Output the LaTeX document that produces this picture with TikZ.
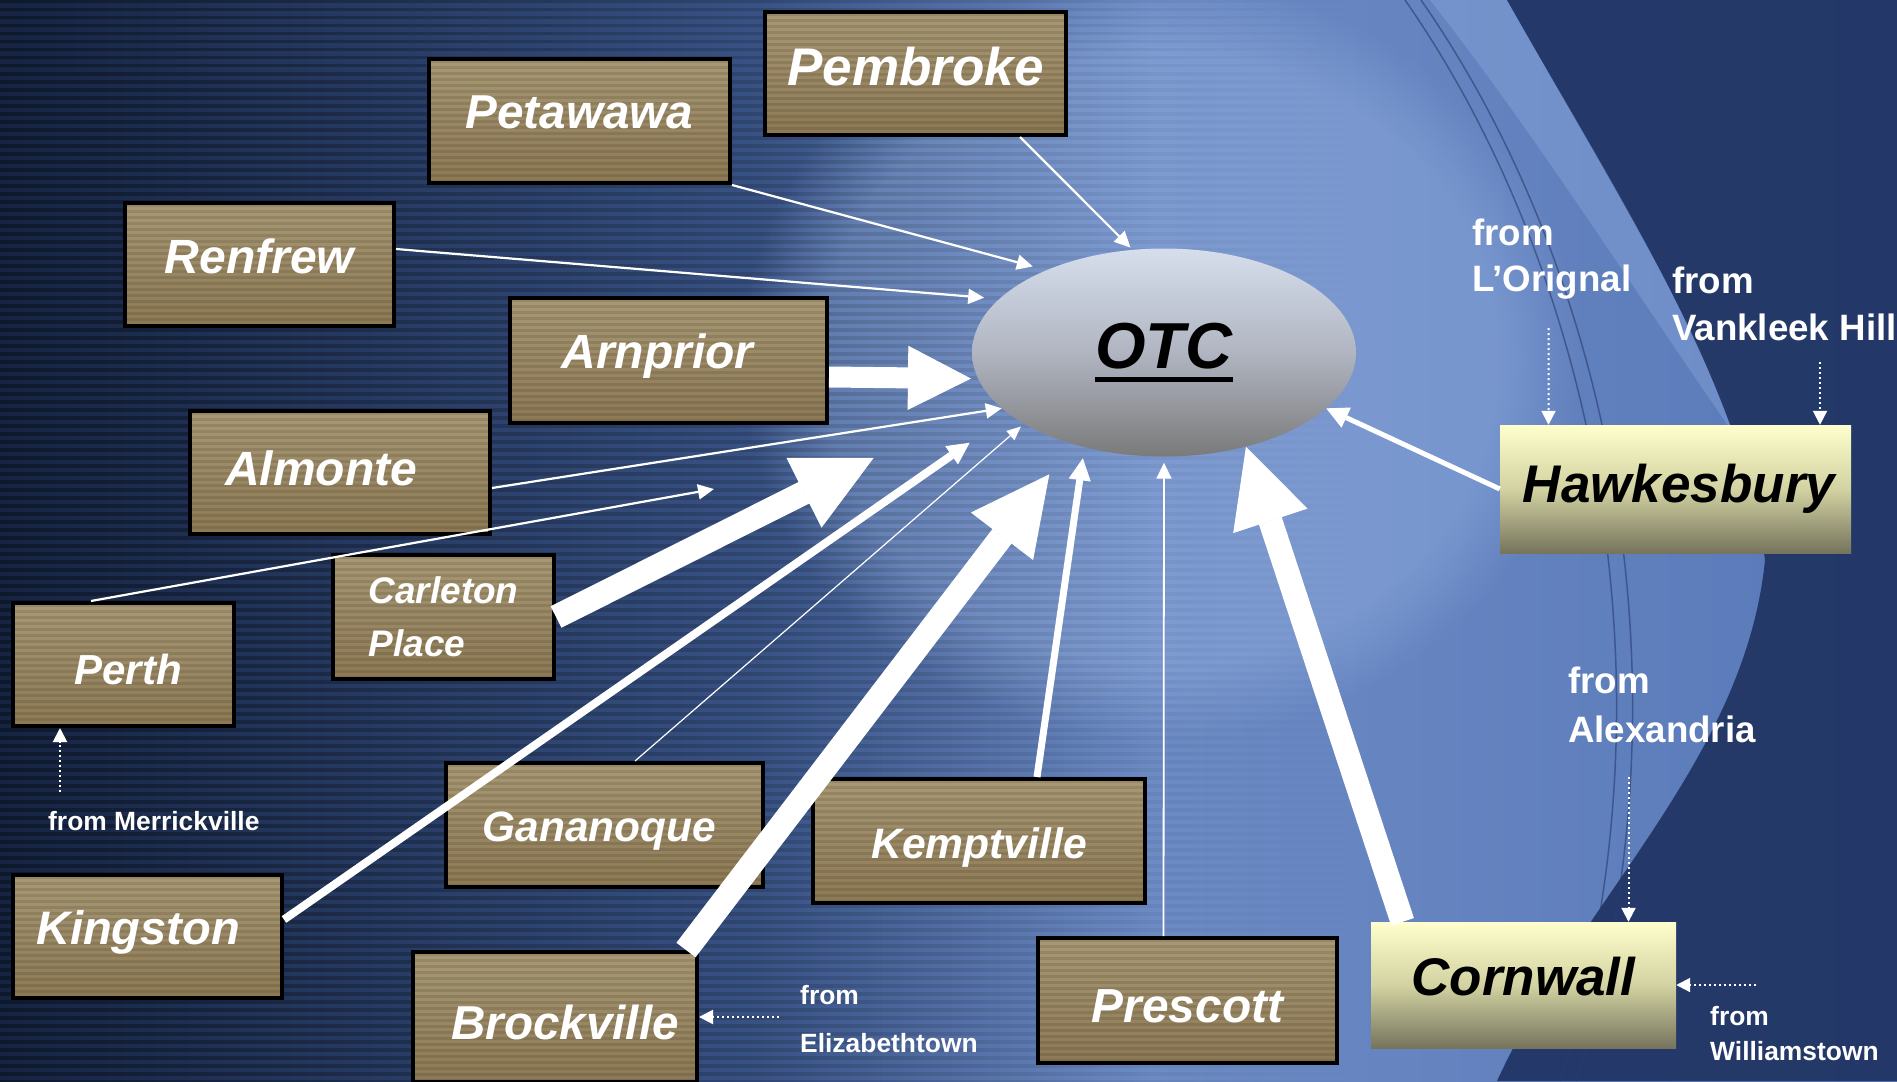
\documentclass[tikz,border=0pt]{standalone}
\usepackage{fontspec}
\setmainfont{Liberation Sans}
\usetikzlibrary{arrows.meta,shapes.geometric,fadings}

\definecolor{bgdark}{RGB}{22,36,66}
\definecolor{bgmid}{RGB}{56,82,132}
\definecolor{bglight}{RGB}{108,138,196}
\definecolor{bgright}{RGB}{88,120,184}
\definecolor{glow}{RGB}{160,188,235}
\definecolor{curtain}{RGB}{30,50,96}
\definecolor{arcc}{RGB}{40,60,110}
\definecolor{tanT}{RGB}{168,152,116}
\definecolor{tanB}{RGB}{140,121,84}
\definecolor{ylwT}{RGB}{255,255,205}
\definecolor{ylwM}{RGB}{210,210,162}
\definecolor{ylwB}{RGB}{118,116,92}
\definecolor{otcT}{RGB}{214,222,236}
\definecolor{otcM}{RGB}{176,181,193}
\definecolor{otcB}{RGB}{122,122,122}

\newcommand\myfs[1]{\fontsize{#1pt}{#1pt}\selectfont}
\newcommand\myul[1]{\setbox0\hbox{#1}\rlap{\rule[-14pt]{\wd0}{5pt}}\box0}
\newcommand\mvtxt[3]{\raisebox{#2}[\height][\depth]{\hspace*{#1}#3\hspace*{-#1}}}

\tikzset{
  town/.style={draw=black, line width=4pt, top color=tanT, bottom color=tanB,
    text=white, inner sep=0pt, align=center,
    path picture={\foreach \k in {0,...,22}{\fill[black,opacity=.10]
      ([yshift=-\k*6pt-1pt]path picture bounding box.north west) rectangle
      ([yshift=-\k*6pt-4pt]path picture bounding box.north east);}}},
  ybox/.style={top color=ylwT, bottom color=ylwB, middle color=ylwM,
    text=black, inner sep=0pt, font=\bfseries\itshape\myfs{53}},
  otcnode/.style={ellipse, minimum width=384pt, minimum height=208pt, inner sep=0pt,
    top color=otcT, bottom color=otcB, middle color=otcM, text=black,
    font=\bfseries\itshape\myfs{65}},
  fromtxt/.style={text=white, inner sep=0pt, anchor=base west},
  thinarr/.style={draw=white, line width=2.2pt, -{Triangle[width=15pt,length=16pt]}},
  hairarr/.style={draw=white, line width=1.2pt, -{Triangle[width=12pt,length=14pt]}},
  medarr/.style={draw=white, line width=#1, -{Triangle[width=22pt,length=22pt,line width=1pt]}},
  blockarr/.style={draw=white, line width=24pt, -{Triangle[width=78pt,length=78pt,line width=1pt]}},
  blockarrA/.style={draw=white, line width=21pt, -{Triangle[width=64pt,length=63pt,line width=1pt]}},
  dotarr/.style={draw=white, line width=2pt, dash pattern=on 2pt off 3pt,
    -{Triangle[width=14pt,length=14pt]}},
}

\begin{document}
\begin{tikzpicture}[x=1pt,y=-1pt]
\useasboundingbox (0,0) rectangle (1897,1081);
\clip (0,0) rectangle (1897,1081);

% ---------- background ----------
\shade[left color=bgdark, right color=bgmid] (0,0) rectangle (760,1081);
\shade[left color=bgmid, right color=bglight] (759,0) rectangle (1150,1081);
\shade[left color=bglight, right color=bgright] (1149,0) rectangle (1897,1081);
\fill[glow, opacity=.35, path fading=circle with fuzzy edge 20 percent]
  (1160,360) ellipse [x radius=420pt, y radius=380pt];
\foreach \yy in {0,8,...,1080}{
  \fill[black,opacity=.32,path fading=east] (0,\yy) rectangle (1350,\yy+3.5);}
\fill[glow, opacity=.28] (1430,0) -- (1507,0) .. controls (1620,200) and (1700,330) .. (1745,450)
  .. controls (1640,300) and (1540,140) .. (1430,0) -- cycle;
\fill[curtain, opacity=.9] (1507,0) .. controls (1620,200) and (1740,380) .. (1765,560)
  .. controls (1745,760) and (1580,900) .. (1497,1081) -- (1897,1081) -- (1897,0) -- cycle;
\draw[arcc, opacity=.6, line width=1.5pt] (1405,0) .. controls (1600,280) and (1680,700) .. (1560,1081);
\draw[arcc, opacity=.6, line width=1.5pt] (1421,0) .. controls (1616,280) and (1696,700) .. (1576,1081);

% ---------- nodes ----------
\node[town, font=\bfseries\itshape\myfs{53}, minimum width=301pt, minimum height=123pt] (pemb) at (915.5,73.5) {\mvtxt{0pt}{7pt}{Pembroke}};
\node[town, font=\bfseries\itshape\myfs{47.6}, minimum width=301pt, minimum height=124pt] (peta) at (579.5,121) {\mvtxt{0pt}{9pt}{Petawawa}};
\node[town, font=\bfseries\itshape\myfs{48}, minimum width=269pt, minimum height=123pt] (renf) at (259.5,264.5) {\mvtxt{0pt}{8pt}{Renfrew}};
\node[town, font=\bfseries\itshape\myfs{48}, minimum width=317pt, minimum height=125pt] (arnp) at (668.5,360.5) {\mvtxt{-11pt}{4pt}{Arnprior}};
\node[town, font=\bfseries\itshape\myfs{48}, minimum width=300pt, minimum height=123pt] (almo) at (340,472.5) {\mvtxt{-19pt}{4pt}{Almonte}};
\node[town, align=left, font=\bfseries\itshape\fontsize{37pt}{53pt}\selectfont, minimum width=221pt, minimum height=124pt] (carl) at (443.5,617) {Carleton\\Place};
\node[town, font=\bfseries\itshape\myfs{42}, minimum width=221pt, minimum height=123pt] (perth) at (123.5,664.5) {\mvtxt{4.5pt}{-5pt}{Perth}};
\node[town, font=\bfseries\itshape\myfs{42.4}, minimum width=317pt, minimum height=124pt] (gana) at (604.5,825) {\mvtxt{-5pt}{-6.5pt}{Gananoque}};
\node[town, font=\bfseries\itshape\myfs{42.6}, minimum width=332pt, minimum height=124pt] (kemp) at (979,841) {\mvtxt{0pt}{-6pt}{Kemptville}};
\node[town, font=\bfseries\itshape\myfs{47}, minimum width=269pt, minimum height=123pt] (king) at (147.5,936.5) {\mvtxt{-9.5pt}{4pt}{Kingston}};
\node[town, font=\bfseries\itshape\myfs{47.6}, minimum width=284pt, minimum height=130pt] (brock) at (555,1017) {\mvtxt{10pt}{-5.6pt}{Brockville}};
\node[town, font=\bfseries\itshape\myfs{47.8}, minimum width=299pt, minimum height=125pt] (presc) at (1187.5,1000.5) {\mvtxt{0pt}{-6pt}{Prescott}};
\node[ybox, minimum width=305pt, minimum height=126pt] (corn) at (1523.5,985) {\mvtxt{0pt}{8pt}{Cornwall}};
\node[ybox, minimum width=351pt, minimum height=128pt] (hawk) at (1675.5,489) {\mvtxt{3.5pt}{0pt}{Hawkesbury}};
\node[otcnode] (otc) at (1164,352.5) {\myul{OTC}};

% ---------- labels ----------
\node[fromtxt, font=\bfseries\myfs{36.7}] (lor1) at (1472,245) {from};
\node[fromtxt, font=\bfseries\myfs{36.7}] (lor2) at (1472,291) {L’Orignal};
\node[fromtxt, font=\bfseries\myfs{36.7}] (vk1) at (1672,293) {from};
\node[fromtxt, font=\bfseries\myfs{36.7}] (vk2) at (1672,340) {Vankleek Hill};
\node[fromtxt, font=\bfseries\myfs{36.7}] (al1) at (1568,693) {from};
\node[fromtxt, font=\bfseries\myfs{36.7}] (al2) at (1568,742) {Alexandria};
\node[fromtxt, font=\bfseries\myfs{26.4}] (mer) at (48,830) {from Merrickville};
\node[fromtxt, font=\bfseries\myfs{26.4}] (el1) at (800,1004) {from};
\node[fromtxt, font=\bfseries\myfs{26.4}] (el2) at (800,1052) {Elizabethtown};
\node[fromtxt, font=\bfseries\myfs{26.4}] (wi1) at (1710,1025) {from};
\node[fromtxt, font=\bfseries\myfs{26.4}] (wi2) at (1710,1060) {Williamstown};

\coordinate (lorS) at (1548.6,328);
\coordinate (vkS) at (1820,362);
\coordinate (merS) at (60,792);
\coordinate (elS) at (779,1017);
\coordinate (alS) at (1628.5,777);
\coordinate (wiS) at (1756,985);
\coordinate (perthE) at (714,489);

% ---------- connectors ----------
\draw[thinarr, shorten >=3pt] ([xshift=104.5pt]pemb.south) -- (otc.107);
\draw[thinarr, shorten >=14pt] (peta.south east) -- (otc.145);
\draw[thinarr, shorten >=15pt] ([yshift=15.5pt]renf.east) -- (otc.162);
\draw[blockarrA, shorten >=7pt] ([yshift=-16.5pt]arnp.east) -- (otc.188);
\draw[thinarr] ([yshift=-15.5pt]almo.east) -- (otc.199);
\draw[thinarr] ([xshift=-32.5pt]perth.north) -- (perthE);
\draw[blockarr, shorten >=132pt] (carl.east) -- (otc.195);
\draw[medarr=8pt, shorten >=49pt] ([yshift=17pt]king.east) -- (otc.202);
\draw[hairarr, shorten >=4pt] ([xshift=30.5pt]gana.north) -- (otc.207);
\draw[blockarr, shorten >=38pt] ([xshift=131pt]brock.north) -- (otc.225);
\draw[medarr=7pt, shorten >=11pt] ([xshift=58pt]kemp.north) -- (otc.230);
\draw[thinarr, line width=1.8pt, shorten >=6pt] ([xshift=-24pt]presc.north) -- (otc.south);
\draw[blockarr] ([xshift=-121pt]corn.north) -- (otc.311);
\draw[medarr=5pt] (hawk.west) -- (otc.341);

\draw[dotarr] (lorS) -- ([xshift=-127pt]hawk.north);
\draw[dotarr] (vkS) -- ([xshift=144.5pt]hawk.north);
\draw[dotarr] (merS) -- ([xshift=-63.5pt]perth.south);
\draw[dotarr] (elS) -- (brock.east);
\draw[dotarr] (alS) -- ([xshift=105pt]corn.north);
\draw[dotarr] (wiS) -- (corn.east);
\end{tikzpicture}
\end{document}
